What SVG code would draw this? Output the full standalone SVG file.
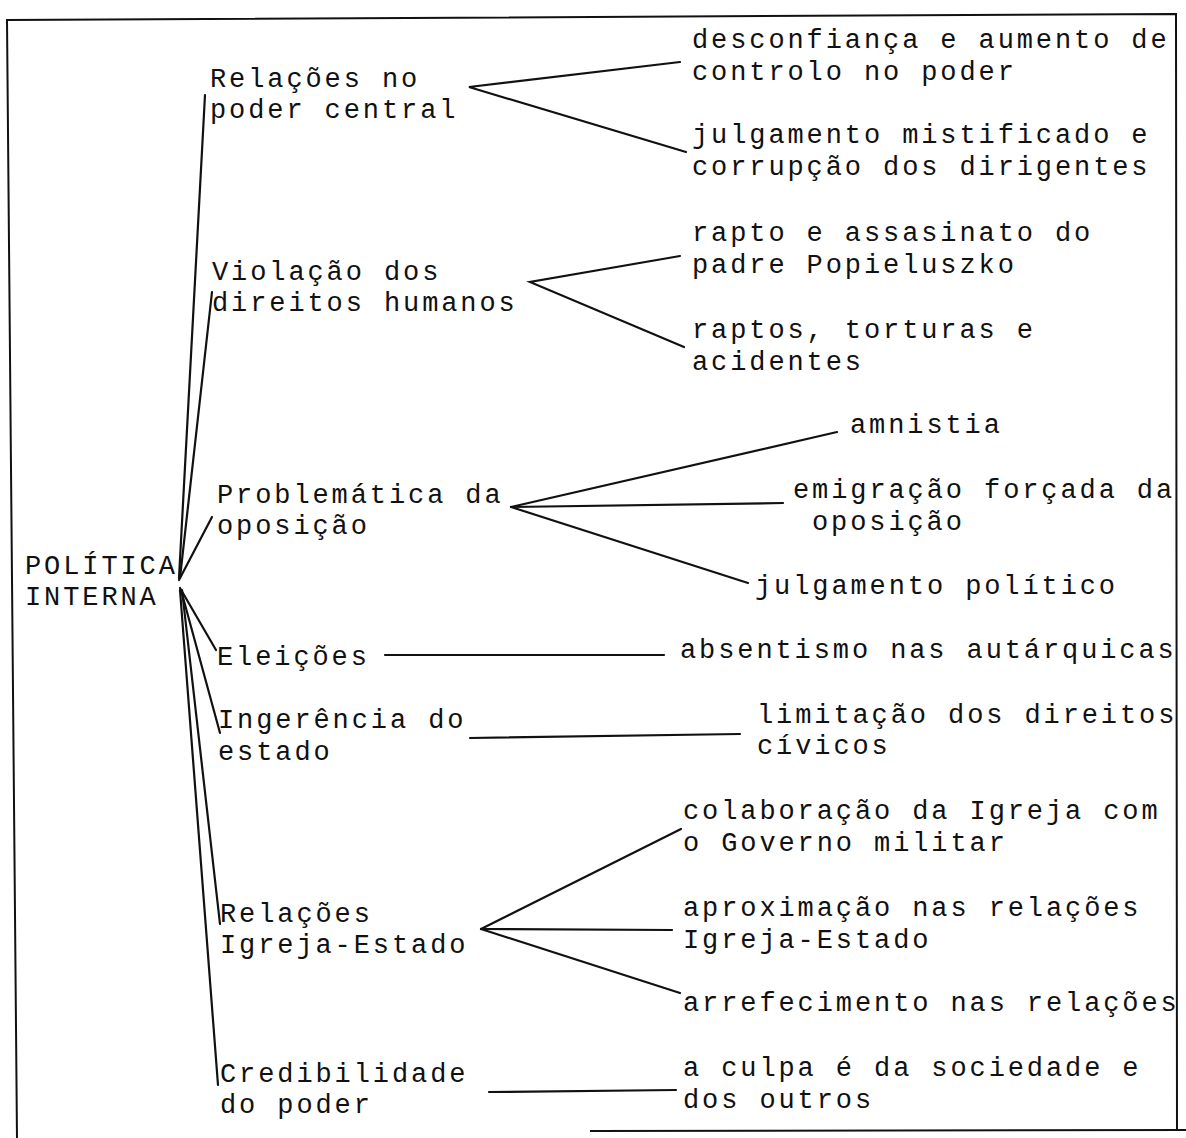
<svg xmlns="http://www.w3.org/2000/svg" width="1186" height="1138" viewBox="0 0 1186 1138">
<style>
text{font-family:"Liberation Mono","Courier New",monospace;font-size:27px;letter-spacing:2.9px;fill:#111}
.c line,.c polyline{stroke:#111;stroke-width:2.2;fill:none;stroke-linecap:round}
.f{stroke:#111;stroke-width:2;fill:none}
</style>
<rect width="1186" height="1138" fill="#fff"/>
<g id="frame">
<polyline class="f" points="17,1138 7,20 1176,14 1177,1131"/>
<line class="f" x1="590" y1="1131" x2="1186" y2="1130"/>
</g>
<g class="c" id="connectors">
<line x1="179" y1="578" x2="205" y2="95"/>
<line x1="180" y1="578" x2="212" y2="292"/>
<line x1="179" y1="580" x2="212" y2="517"/>
<line x1="180" y1="588" x2="216" y2="650"/>
<line x1="181" y1="590" x2="220" y2="733"/>
<line x1="182" y1="590" x2="220" y2="924"/>
<line x1="180" y1="590" x2="218" y2="1085"/>
<polyline points="680,62 469,87 686,152"/>
<polyline points="680,256 530,282 684,347"/>
<line x1="511" y1="507" x2="837" y2="432"/>
<line x1="511" y1="507" x2="783" y2="503"/>
<line x1="511" y1="507" x2="748" y2="583"/>
<line x1="385" y1="655" x2="664" y2="655"/>
<line x1="470" y1="738" x2="740" y2="734"/>
<line x1="481" y1="929" x2="681" y2="829"/>
<line x1="481" y1="929" x2="672" y2="930"/>
<line x1="481" y1="929" x2="680" y2="993"/>
<line x1="489" y1="1092" x2="676" y2="1090"/>
</g>
<g id="root"><text x="25" y="574">POLÍTICA</text><text x="25" y="605">INTERNA</text></g>
<g id="n1"><text x="210" y="87">Relações no</text><text x="210" y="118">poder central</text></g>
<g id="n2"><text x="212" y="280">Violação dos</text><text x="212" y="311">direitos humanos</text></g>
<g id="n3"><text x="217" y="503">Problemática da</text><text x="217" y="534">oposição</text></g>
<g id="n4"><text x="217" y="665">Eleições</text></g>
<g id="n5"><text x="218" y="728">Ingerência do</text><text x="218" y="760">estado</text></g>
<g id="n6"><text x="220" y="922">Relações</text><text x="220" y="953">Igreja-Estado</text></g>
<g id="n7"><text x="220" y="1082">Credibilidade</text><text x="220" y="1113">do poder</text></g>
<g id="l1"><text x="692" y="48">desconfiança e aumento de</text><text x="692" y="80">controlo no poder</text></g>
<g id="l2"><text x="692" y="143">julgamento mistificado e</text><text x="692" y="175">corrupção dos dirigentes</text></g>
<g id="l3"><text x="692" y="241">rapto e assasinato do</text><text x="692" y="273">padre Popieluszko</text></g>
<g id="l4"><text x="692" y="338">raptos, torturas e</text><text x="692" y="370">acidentes</text></g>
<g id="l5"><text x="850" y="433">amnistia</text></g>
<g id="l6"><text x="793" y="498">emigração forçada da</text><text x="812" y="530">oposição</text></g>
<g id="l7"><text x="755" y="594">julgamento político</text></g>
<g id="l8"><text x="680" y="658">absentismo nas autárquicas</text></g>
<g id="l9"><text x="757" y="723">limitação dos direitos</text><text x="757" y="754">cívicos</text></g>
<g id="l10"><text x="683" y="819">colaboração da Igreja com</text><text x="683" y="851">o Governo militar</text></g>
<g id="l11"><text x="683" y="916">aproximação nas relações</text><text x="683" y="948">Igreja-Estado</text></g>
<g id="l12"><text x="683" y="1011">arrefecimento nas relações</text></g>
<g id="l13"><text x="683" y="1076">a culpa é da sociedade e</text><text x="683" y="1108">dos outros</text></g>
</svg>
